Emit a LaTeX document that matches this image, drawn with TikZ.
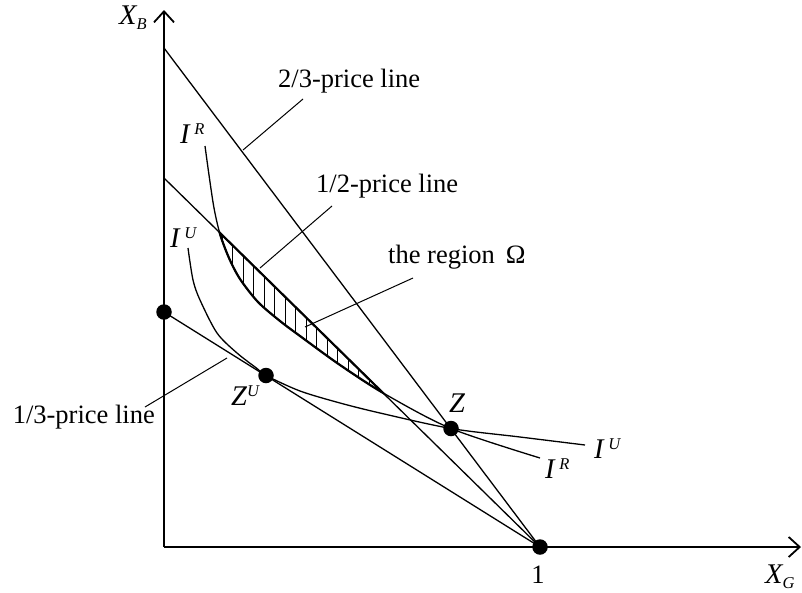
\documentclass[tikz,border=0pt]{standalone}
\usepackage{fontspec}
\setmainfont{Liberation Serif}
\usetikzlibrary{arrows.meta}
\newcommand\supx[1]{\raisebox{9pt}{\fontsize{16.5}{16.5}\selectfont\itshape #1}}
\newcommand\subx[1]{\raisebox{-5pt}{\fontsize{16.5}{16.5}\selectfont\itshape #1}}
\begin{document}
\begin{tikzpicture}[x=1pt,y=-1pt,
  lbl/.style={font=\fontsize{26.5}{30}\selectfont, inner sep=0pt},
  mlbl/.style={font=\fontsize{28.5}{30}\selectfont\itshape, inner sep=0pt},
  ln/.style={line width=1.3pt},
  bnd/.style={line width=2.2pt},
  lead/.style={line width=1pt},
  hatch/.style={line width=1pt},
  dot/.style={circle, fill=black, minimum size=15.5pt, inner sep=0pt},
  axis/.style={line width=1.5pt, -{Straight Barb[length=11pt,width=20pt,line width=1.8pt]}}]
\useasboundingbox (0,0) rectangle (802,592);
% key points
\coordinate (O) at (164,547);
\coordinate (yt) at (164,10);
\coordinate (xt) at (801,547);
\coordinate (A23) at (164,48);
\coordinate (A12) at (164,178);
\coordinate (A13) at (164,312);
\coordinate (E1) at (540,547);
\coordinate (cZU) at (266,375.5);
\coordinate (cZ) at (451,428.5);
% axes
\draw[axis] (O) -- (yt);
\draw[axis] (O) -- (xt);
% price lines
\draw[ln] (A23) -- (E1);
\draw[ln] (A12) -- (E1);
\draw[ln] (A13) -- (E1);
% hatching of the region Omega
\begin{scope}
\clip (A12) -- (E1) -- (O) -- cycle;
\clip plot[smooth] coordinates {(205,146) (209,175) (214,208) (220,234) (229,258) (240,279) (258,302) (280,321) (300,336) (340,365) (385,394) (451,428.5) (540,458)} -- (560,458) -- (560,100) -- (205,100) -- cycle;
\foreach \x in {222,232.5,...,388} \draw[hatch] (\x,150) -- (\x,450);
\end{scope}
% thick boundaries of the region
\begin{scope}
\clip (A12) -- (E1) -- (O) -- cycle;
\draw[bnd] plot[smooth] coordinates {(205,146) (209,175) (214,208) (220,234) (229,258) (240,279) (258,302) (280,321) (300,336) (340,365) (385,394) (451,428.5) (540,458)};
\end{scope}
\begin{scope}
\clip plot[smooth] coordinates {(205,146) (209,175) (214,208) (220,234) (229,258) (240,279) (258,302) (280,321) (300,336) (340,365) (385,394) (451,428.5) (540,458)} -- (560,458) -- (560,100) -- (205,100) -- cycle;
\draw[bnd] (A12) -- (E1);
\end{scope}
% indifference curves
\draw[ln] plot[smooth] coordinates {(205,146) (209,175) (214,208) (220,234) (229,258) (240,279) (258,302) (280,321) (300,336) (340,365) (385,394) (451,428.5) (540,458)};
\draw[ln] plot[smooth] coordinates {(188,248) (193,280) (200,300) (217,333) (237,353) (257,368.5) (266,375.5) (300,391) (340,403) (380,413) (451,428.5) (520,437) (585,445)};
% dots
\node[dot] (D13) at (A13) {};
\node[dot] (DZU) at (cZU) {};
\node[dot] (DZ) at (cZ) {};
\node[dot] (D1) at (E1) {};
% text labels
\node[lbl, anchor=base west] (L23) at (278,87) {2/3-price line};
\node[lbl, anchor=base west] (L12) at (316,192) {1/2-price line};
\node[lbl, anchor=base west] (LOm) at (388,263) {the region\ \,Ω};
\node[lbl, anchor=base east] (L13) at (155,423) {1/3-price line};
% leaders
\coordinate (k23a) at (303,99);  \coordinate (k23b) at (243,150);
\coordinate (k12a) at (332,206); \coordinate (k12b) at (260,268);
\coordinate (kOa) at (413,278);  \coordinate (kOb) at (305,327);
\coordinate (k13a) at (227,358); \coordinate (k13b) at (145,407);
\draw[lead] (k23a) -- (k23b);
\draw[lead] (k12a) -- (k12b);
\draw[lead] (kOa) -- (kOb);
\draw[lead] (k13a) -- (k13b);
% math labels
\node[mlbl, anchor=base west] (XB) at (119,24) {X\subx{B}};
\node[mlbl, anchor=base west] (XG) at (765,583) {X\subx{G}};
\node[lbl, anchor=base] (N1) at (538,583) {1};
\node[mlbl, anchor=base west] (LZ) at (449,412) {Z};
\node[mlbl, anchor=base west] (LZU) at (231,405) {Z\supx{U}};
\node[mlbl, anchor=base west] (IR1) at (180,143) {I\,\supx{R}};
\node[mlbl, anchor=base west] (IU1) at (170,247) {I\,\supx{U}};
\node[mlbl, anchor=base west] (IR2) at (545,478) {I\,\supx{R}};
\node[mlbl, anchor=base west] (IU2) at (594,458) {I\,\supx{U}};
\end{tikzpicture}
\end{document}
